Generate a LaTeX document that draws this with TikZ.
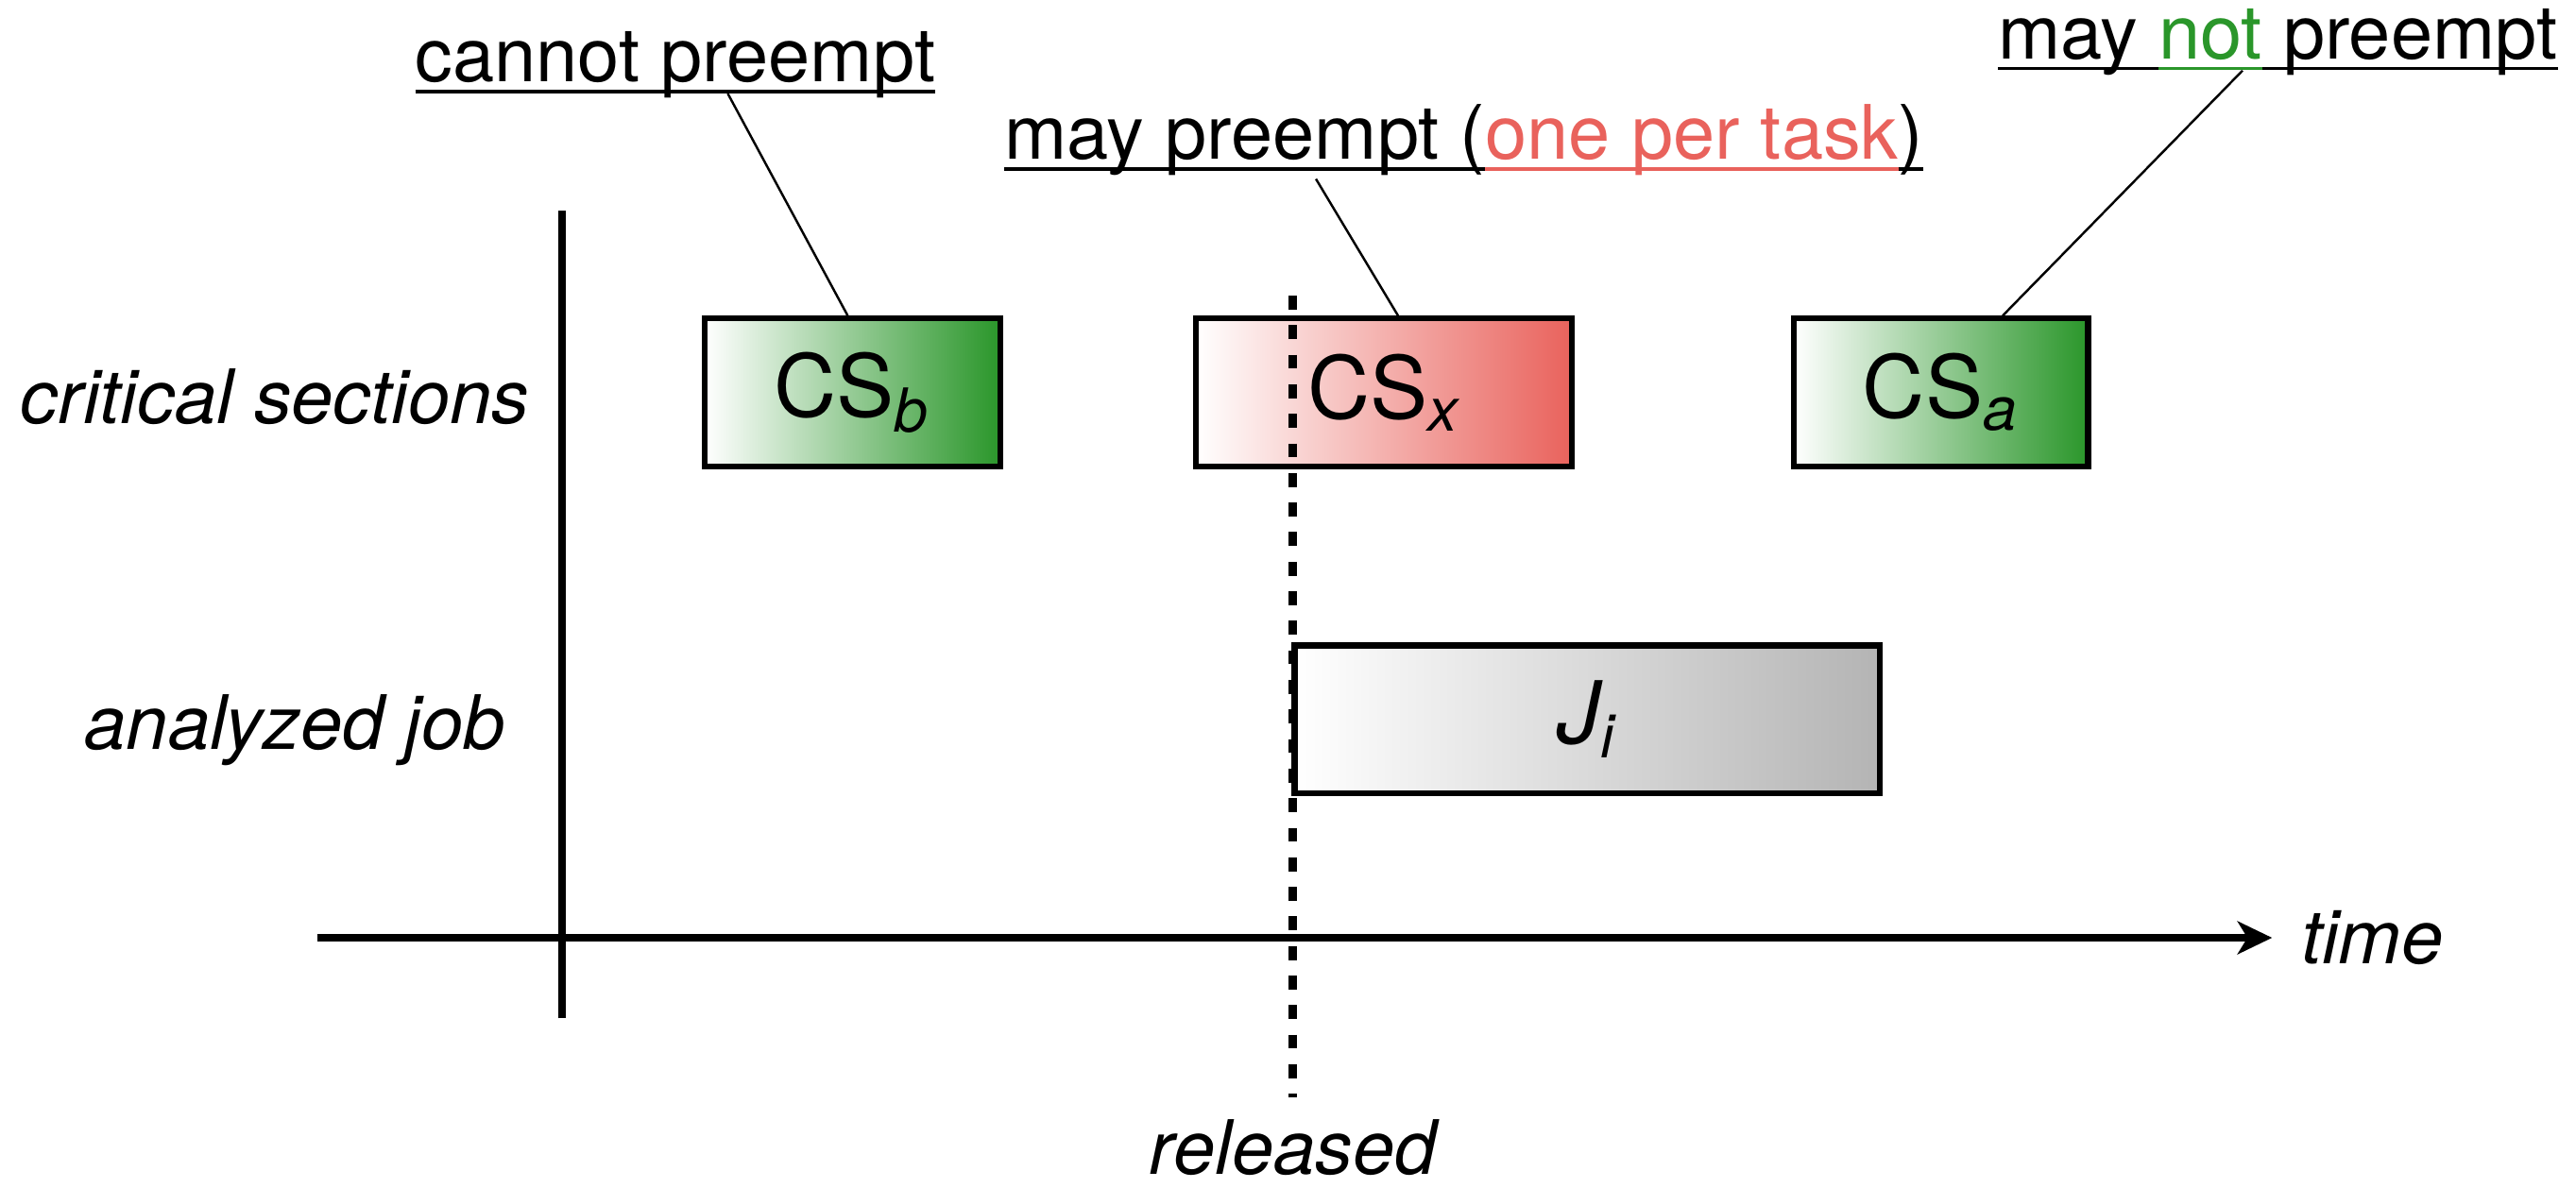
\documentclass[tikz,border=0pt]{standalone}
\usepackage{fontspec}
\setmainfont{TeX Gyre Heros}
\usetikzlibrary{arrows.meta, positioning}
\definecolor{csred}{HTML}{E9625C}
\definecolor{csgreen}{HTML}{2A962A}
\definecolor{jobgray}{HTML}{B4B4B4}
\newcommand{\lblsize}{\fontsize{13}{15.6}\selectfont}
\newcommand{\boxsize}{\fontsize{15}{18}\selectfont}
\newcommand{\uln}[1]{\setbox0\hbox{#1}\rlap{\rule[-0.15em]{\wd0}{0.05em}}\box0}

\begin{document}
\begin{tikzpicture}[
  >={Stealth[length=2.1mm, width=2mm, inset=0.6mm]},
  csbox/.style={
    draw=black, line width=1pt, left color=white, right color=#1,
    minimum height=9mm, inner sep=0pt, font=\boxsize
  },
  rowlbl/.style={font=\lblsize\itshape, inner sep=0pt},
  note/.style={font=\lblsize, inner sep=0pt, anchor=base},
  axis/.style={line width=1.4pt, black},
  release/.style={line width=1.5pt, black, dash pattern=on 0.85mm off 0.95mm},
  leader/.style={line width=0.4pt, black},
]

\useasboundingbox (0,0) rectangle (15.68,7.23);

% Axes
\coordinate (yaxtop) at (3.42,5.95);
\coordinate (yaxbot) at (3.42,1.03);
\coordinate (xaxl) at (1.93,1.52);
\coordinate (xaxr) at (13.83,1.52);
\draw[axis] (yaxbot) -- (yaxtop);
\draw[axis, ->] (xaxl) -- (xaxr);
\node[rowlbl, right=1.7mm of xaxr] (time) {time};

% Row labels
\node[rowlbl, anchor=base east] (crit) at (3.23,4.65) {critical sections};
\node[rowlbl, anchor=base] (anjob) at (1.795,2.67) {analyzed job};

% Critical sections
\node[csbox=csgreen, minimum width=18mm] (csb) at (5.19,4.84) {CS\textsubscript{\itshape b}};
\node[csbox=csred, minimum width=22.9mm] (csx) at (8.425,4.84) {CS\textsubscript{\itshape x}};
\node[csbox=csgreen, minimum width=17.9mm] (csa) at (11.815,4.84) {CS\textsubscript{\itshape a}};

% Analyzed job
\node[csbox=jobgray, minimum width=35.6mm] (job) at (9.66,2.85) {\itshape J\textsubscript{i}};

% Release of the job
\coordinate (reltop) at (7.87,5.43);
\coordinate (relbot) at (7.87,0.55);
\draw[release] (reltop) -- (relbot);
\node[rowlbl, below=1.3mm of relbot] (rel) {released};

% Annotations
\node[note] (lblb) at (4.11,6.73) {\uln{cannot preempt}};
\node[note] (lblx) at (8.91,6.26)
  {\uln{may preempt (}\textcolor{csred}{\uln{one per task}}\uln{)}};
\node[note] (lbla) at (13.865,6.87)
  {\uln{may }\textcolor{csgreen}{\uln{not}}\uln{ preempt}};

\draw[leader] ([xshift=3.2mm, yshift=-0.7mm]lblb.base) -- ([xshift=-0.3mm]csb.north);
\draw[leader] ([xshift=-9mm, yshift=-1.2mm]lblx.base) -- ([xshift=0.85mm]csx.north);
\draw[leader] ([xshift=-2.15mm, yshift=-0.7mm]lbla.base) -- ([xshift=3.75mm]csa.north);

\end{tikzpicture}
\end{document}
